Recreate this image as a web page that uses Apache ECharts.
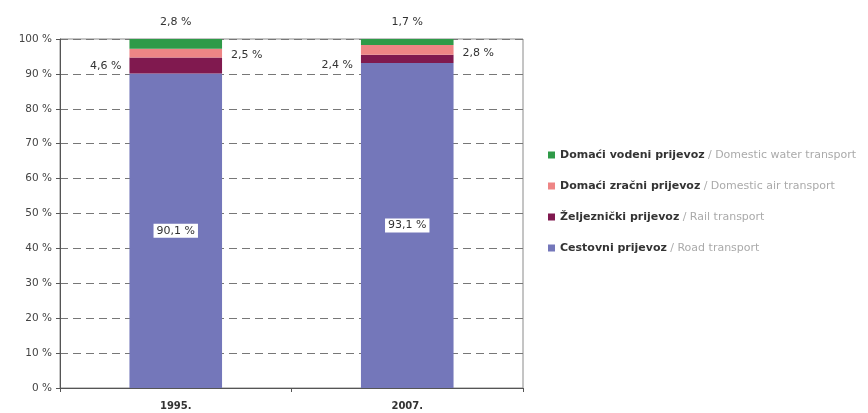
<!DOCTYPE html>
<html>
<head>
<meta charset="utf-8">
<script src="https://cdn.jsdelivr.net/npm/echarts@6/dist/echarts.min.js"></script>
<style>
html,body{margin:0;padding:0;background:#fff;}
#chart{width:868px;height:413px;}
</style>
</head>
<body>
<div id="chart"></div>
<script>
const categories = ['1995.', '2007.'];
const seriesNames = [
  'Cestovni prijevoz / Road transport',
  'Željeznički prijevoz / Rail transport',
  'Domaći zračni prijevoz / Domestic air transport',
  'Domaći vodeni prijevoz / Domestic water transport'
];
const roadValues = [90.1, 93.1];
const railValues = [4.6, 2.4];
const airValues = [2.5, 2.8];
const waterValues = [2.8, 1.7];
const yTicks = [0, 10, 20, 30, 40, 50, 60, 70, 80, 90, 100];

const colors = ['#7477BA', '#80194F', '#EE8585', '#2F9A48'];
const FONT = 'DejaVu Sans';
const fmt = v => v.toFixed(1).replace('.', ',') + ' %';
const labelBase = {show: true, color: '#333', fontFamily: FONT, fontSize: 11, formatter: p => fmt(p.value)};

const chart = echarts.init(document.getElementById('chart'));
chart.setOption({
  animation: false,
  backgroundColor: '#fff',
  grid: {left: 60, right: 345, top: 39, bottom: 25, show: true, borderColor: '#8a8a8a', borderWidth: 1},
  legend: {
    orient: 'vertical', left: 543, top: 144, itemGap: 19, itemWidth: 7, itemHeight: 7, icon: 'rect',
    data: [seriesNames[3], seriesNames[2], seriesNames[1], seriesNames[0]],
    formatter: name => {
      const parts = name.split(' / ');
      return '{a|' + parts[0] + '} {b|/ ' + parts[1] + '}';
    },
    textStyle: {
      rich: {
        a: {fontFamily: FONT, fontSize: 11, fontWeight: 'bold', color: '#333'},
        b: {fontFamily: FONT, fontSize: 11, color: '#aaa'}
      }
    }
  },
  xAxis: {
    type: 'category', data: categories,
    axisLine: {lineStyle: {color: '#555'}},
    axisTick: {show: true, length: 4, lineStyle: {color: '#555'}},
    axisLabel: {color: '#333', fontFamily: FONT, fontSize: 10, fontWeight: 'bold', margin: 13}
  },
  yAxis: {
    type: 'value', min: 0, max: 100, interval: 10,
    axisLine: {show: true, lineStyle: {color: '#555'}},
    axisTick: {show: true, length: 4, lineStyle: {color: '#555'}},
    axisLabel: {color: '#444', fontFamily: FONT, fontSize: 10.5, margin: 8,
      formatter: v => (yTicks.indexOf(v) >= 0 ? v + ' %' : '')},
    splitLine: {show: true, lineStyle: {color: '#777', type: [8, 5], width: 1}}
  },
  series: [
    {
      name: seriesNames[0], type: 'bar', stack: 't', barWidth: '40%',
      itemStyle: {color: colors[0]},
      data: roadValues,
      label: Object.assign({}, labelBase, {position: 'inside', backgroundColor: '#fff', padding: [2, 3, 1, 3]})
    },
    {
      name: seriesNames[1], type: 'bar', stack: 't',
      itemStyle: {color: colors[1]},
      data: railValues.map((v, i) => ({value: v, label: i === 0 ? {offset: [0, 1]} : {offset: [0, 6]}})),
      label: Object.assign({}, labelBase, {position: 'left', distance: 8})
    },
    {
      name: seriesNames[2], type: 'bar', stack: 't',
      itemStyle: {color: colors[2]},
      data: airValues.map((v, i) => ({value: v, label: {offset: [0, i === 0 ? 2 : 3]}})),
      label: Object.assign({}, labelBase, {position: 'right', distance: 9})
    },
    {
      name: seriesNames[3], type: 'bar', stack: 't',
      itemStyle: {color: colors[3]},
      data: waterValues,
      label: Object.assign({}, labelBase, {position: 'top', distance: 5, offset: [0, -6]})
    }
  ]
});
</script>
</body>
</html>
